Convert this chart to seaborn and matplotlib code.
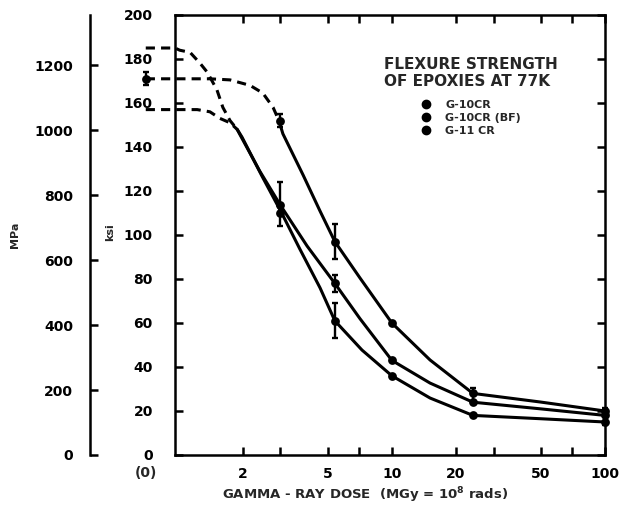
import numpy as np
import pandas as pd
import seaborn as sns
import matplotlib.pyplot as plt
import matplotlib.transforms as mtransforms
from matplotlib.lines import Line2D
from matplotlib.ticker import FixedLocator, FixedFormatter, NullLocator

# -------------------------------
# Data (strength in ksi, dose in MGy)
# dose 0 = unirradiated, drawn left of the broken log axis
# -------------------------------
series_names = ["G-10CR", "G-10CR (BF)", "G-11 CR"]

# measured points
g10cr_dose = [0, 3, 5.4, 10, 24, 100]
g10cr_ksi = [171, 152, 97, 60, 28, 20]
g10bf_dose = [3, 5.4, 10, 24, 100]
g10bf_ksi = [113.5, 78, 43, 24, 18]
g11_dose = [3, 5.4, 10, 24, 100]
g11_ksi = [110, 61, 36, 18, 15]

# error bars (centre, half length)
err_dose = [0, 3, 3, 5.4, 5.4, 5.4, 24, 100]
err_ksi = [171, 152, 114, 97, 78, 61, 27, 17.5]
err_half = [3, 3, 10, 8, 4, 8, 3.5, 4]

# hand drawn curves
g10cr_dash_dose = [0, 0.96, 1.40, 1.74, 2.16, 2.48, 2.77, 2.95]
g10cr_dash_ksi = [171, 171, 171, 170.5, 168, 164.5, 158, 152]
g10cr_line_dose = [2.95, 3.08, 3.83, 4.6, 5.4, 7.08, 10, 15.1, 24, 49.6, 100]
g10cr_line_ksi = [152, 146, 127.3, 110.9, 97, 80.5, 60, 43.2, 28, 24.1, 20]

g10bf_dash_dose = [0, 0.96, 1.01, 1.13, 1.26, 1.36, 1.51, 1.61, 1.74, 1.88]
g10bf_dash_ksi = [185, 185, 184, 183, 178, 174, 166, 158, 152, 148]
g10bf_line_dose = [1.88, 1.94, 2.40, 3.0, 4.0, 5.4, 7.08, 10, 15.1, 24, 49.6, 100]
g10bf_line_ksi = [148, 145.5, 129, 113.5, 95, 78, 62, 43, 32.7, 24, 21, 18]

g11_dash_dose = [0, 0.96, 1.22, 1.40, 1.56, 1.74, 1.88]
g11_dash_ksi = [157, 157, 157, 156, 153, 151, 148]
g11_line_dose = [1.88, 1.98, 2.45, 3.04, 3.70, 4.6, 5.4, 7.24, 10, 15.1, 24, 49.6, 100]
g11_line_ksi = [148, 144.5, 127, 110, 93.6, 76, 61, 47.7, 36, 25.9, 18, 16.5, 15]

x_ticks = [2, 3, 5, 7, 10, 20, 30, 50, 70, 100]
x_ticklabels = ["2", "", "5", "", "10", "20", "", "50", "", "100"]
ksi_ticks = list(range(0, 201, 20))
mpa_ticks = list(range(0, 1201, 200))

ZERO_X = 0.7   # where "(0)" sits on the log axis


def xpos(d):
    return [ZERO_X if v == 0 else v for v in d]


# -------------------------------
# Style
# -------------------------------
sns.set_theme(style="ticks")
plt.rcParams["font.family"] = ["DejaVu Sans"]
plt.rcParams["font.weight"] = "bold"
plt.rcParams["axes.linewidth"] = 1.8

LW = 2.2
W, H = 619, 520

fig = plt.figure(figsize=(W / 100, H / 100), dpi=100)
ax = fig.add_axes([175 / W, 65 / H, 430 / W, 440 / H])
ax.set_xscale("log")

# -------------------------------
# Curves
# -------------------------------
dashed = [(g10cr_dash_dose, g10cr_dash_ksi), (g10bf_dash_dose, g10bf_dash_ksi),
          (g11_dash_dose, g11_dash_ksi)]
solid = [(g10cr_line_dose, g10cr_line_ksi), (g10bf_line_dose, g10bf_line_ksi),
         (g11_line_dose, g11_line_ksi)]

for d, k in dashed:
    sns.lineplot(x=xpos(d), y=k, ax=ax, color="black", linewidth=LW,
                 linestyle=(0, (3, 2)), estimator=None, sort=False, clip_on=False)
for d, k in solid:
    sns.lineplot(x=xpos(d), y=k, ax=ax, color="black", linewidth=LW,
                 estimator=None, sort=False, clip_on=False,
                 solid_joinstyle="round", solid_capstyle="round")

for d, k in [(g10cr_dose, g10cr_ksi), (g10bf_dose, g10bf_ksi), (g11_dose, g11_ksi)]:
    sns.scatterplot(x=xpos(d), y=k, ax=ax, color="black", s=40, linewidth=0,
                    zorder=5, clip_on=False, legend=False)

ax.errorbar(xpos(err_dose), err_ksi, yerr=err_half, fmt="none", ecolor="black",
            elinewidth=1.7, capsize=2.5, capthick=1.7, clip_on=False, zorder=4)

# -------------------------------
# Axes
# -------------------------------
ax.set_xlim(0.96, 100)
ax.set_ylim(0, 200)
ax.xaxis.set_major_locator(FixedLocator(x_ticks))
ax.xaxis.set_major_formatter(FixedFormatter(x_ticklabels))
ax.xaxis.set_minor_locator(NullLocator())
ax.set_yticks(ksi_ticks)
ax.tick_params(axis="both", which="major", direction="in", length=6, width=1.8,
               top=True, right=True, labelsize=10, colors="black")
ax.tick_params(axis="x", pad=9)
ax.tick_params(axis="y", pad=16)
for s in ax.spines.values():
    s.set_color("black")

trans = mtransforms.blended_transform_factory(ax.transData, ax.transAxes)
ax.text(ZERO_X, -0.041, "(0)", transform=trans, ha="center", va="center",
        fontsize=10, fontweight="bold")

ax.set_xlabel("GAMMA - RAY DOSE  (MGy = 10$^{\\mathbf{8}}$ rads)", fontsize=9.5,
              fontweight="bold")
ax.xaxis.set_label_coords(0.442, -0.07)

# legend
handles = [Line2D([], [], marker="o", ls="none", color="black", markersize=6)
           for _ in series_names]
leg = ax.legend(handles, series_names, title="FLEXURE STRENGTH\nOF EPOXIES AT 77K",
                frameon=False, loc="upper right", bbox_to_anchor=(0.89, 0.905),
                borderaxespad=0, borderpad=0, handlelength=1, handletextpad=1.2,
                labelspacing=0.25, prop={"weight": "bold", "size": 8},
                title_fontproperties={"weight": "bold", "size": 11})
leg._legend_box.sep = 8

# outer MPa scale
ax2 = fig.add_axes([90 / W, 65 / H, 0.001, 440 / H])
ax2.patch.set_visible(False)
ax2.set_ylim(0, 1355)
ax2.set_yticks(mpa_ticks)
ax2.set_xticks([])
for side in ["top", "right", "bottom"]:
    ax2.spines[side].set_visible(False)
ax2.spines["left"].set_color("black")
ax2.tick_params(axis="y", direction="in", length=6, width=1.8, pad=12,
                labelsize=10, colors="black")

fig.text(15 / W, 1 - 235 / H, "MPa", rotation=90, ha="center", va="center",
         fontsize=8, fontweight="bold")
fig.text(110 / W, 1 - 232 / H, "ksi", rotation=90, ha="center", va="center",
         fontsize=8, fontweight="bold")

fig.savefig("out.png", dpi=100, facecolor="white")
